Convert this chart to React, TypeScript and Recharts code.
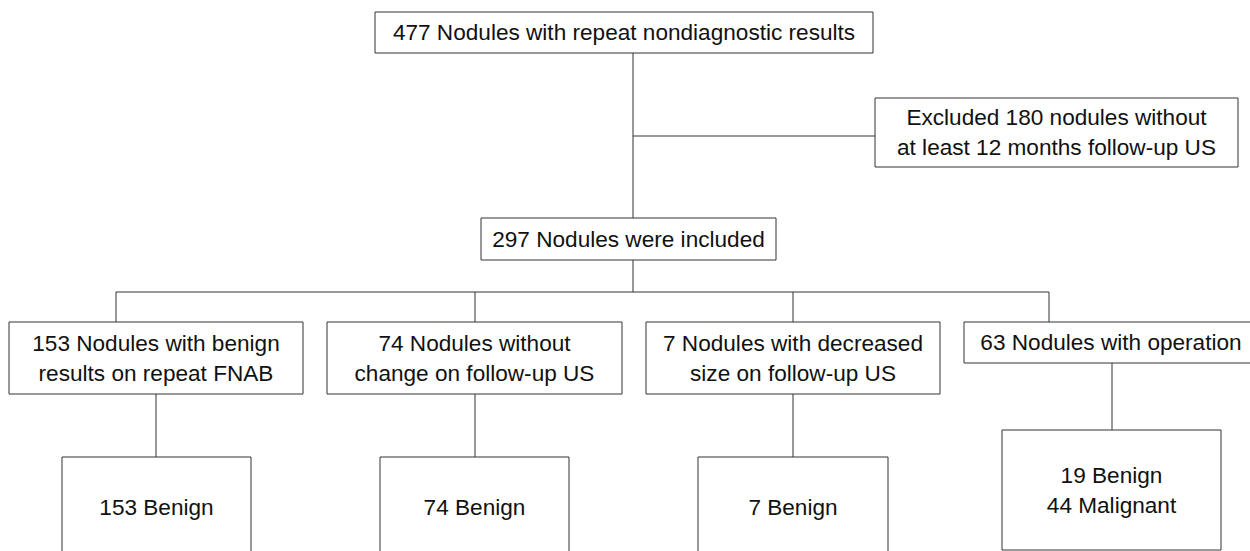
import React from 'react';
import { ScatterChart, Scatter, XAxis, YAxis, ReferenceArea, ReferenceLine } from 'recharts';

// flowchart boxes, in chart units (1 unit = 1px, y grows downward)
const boxLabels: string[][] = [
  ['477 Nodules with repeat nondiagnostic results'],
  ['Excluded 180 nodules without', 'at least 12 months follow-up US'],
  ['297 Nodules were included'],
  ['153 Nodules with benign', 'results on repeat FNAB'],
  ['74 Nodules without', 'change on follow-up US'],
  ['7 Nodules with decreased', 'size on follow-up US'],
  ['63 Nodules with operation'],
  ['153 Benign'],
  ['74 Benign'],
  ['7 Benign'],
  ['19 Benign', '44 Malignant'],
];
const boxLeft = [375, 875, 481, 9, 327, 646, 964, 62, 380, 698, 1002];
const boxRight = [873, 1238, 776, 303, 622, 940, 1258, 251, 569, 888, 1221];
const boxTop = [12, 98, 218, 322, 322, 322, 322, 457, 457, 457, 430];
const boxBottom = [53, 167, 260, 394, 394, 394, 363, 557, 557, 557, 550];

// connector segments: [x1, y1, x2, y2]
const connectors: number[][] = [
  [633, 53, 633, 218],
  [633, 136, 875, 136],
  [633, 260, 633, 292],
  [116, 292, 1049, 292],
  [116, 292, 116, 322],
  [475, 292, 475, 322],
  [793, 292, 793, 322],
  [1049, 292, 1049, 322],
  [156, 394, 156, 457],
  [475, 394, 475, 457],
  [793, 394, 793, 457],
  [1112, 363, 1112, 430],
];

const W = 1250;
const H = 551;
const LINE_GAP = 30;

const nodes = boxLabels.map((lines, i) => ({
  x: (boxLeft[i] + boxRight[i]) / 2,
  y: (boxTop[i] + boxBottom[i]) / 2,
  lines,
}));

const BoxText = (props: any) => {
  const { cx, cy, payload } = props;
  const n = payload.lines.length;
  return (
    <g>
      {payload.lines.map((t: string, i: number) => (
        <text
          key={i}
          x={cx}
          y={cy + (i - (n - 1) / 2) * LINE_GAP}
          textAnchor="middle"
          dominantBaseline="central"
          fontFamily="'Liberation Sans', Arial, Helvetica, sans-serif"
          fontSize={22.6}
          fill="#111"
        >
          {t}
        </text>
      ))}
    </g>
  );
};

export default function App() {
  return (
    <div style={{ width: W, height: H, background: '#fff' }}>
      <style>{'body{margin:0}'}</style>
      <ScatterChart width={W} height={H} margin={{ top: 0, right: 0, bottom: 0, left: 0 }}>
        <XAxis type="number" dataKey="x" domain={[0, W]} allowDataOverflow hide />
        <YAxis type="number" dataKey="y" domain={[0, H]} allowDataOverflow reversed hide />
        {connectors.map((c, i) => (
          <ReferenceLine
            key={`c${i}`}
            segment={[{ x: c[0], y: c[1] }, { x: c[2], y: c[3] }]}
            stroke="#333"
            strokeWidth={1}
            ifOverflow="visible"
          />
        ))}
        {boxLabels.map((_, i) => (
          <ReferenceArea
            key={`b${i}`}
            x1={boxLeft[i]}
            x2={boxRight[i]}
            y1={boxTop[i]}
            y2={boxBottom[i]}
            fill="#fff"
            fillOpacity={1}
            stroke="#333"
            strokeWidth={1}
            ifOverflow="visible"
          />
        ))}
        <Scatter data={nodes} shape={BoxText} isAnimationActive={false} />
      </ScatterChart>
    </div>
  );
}
